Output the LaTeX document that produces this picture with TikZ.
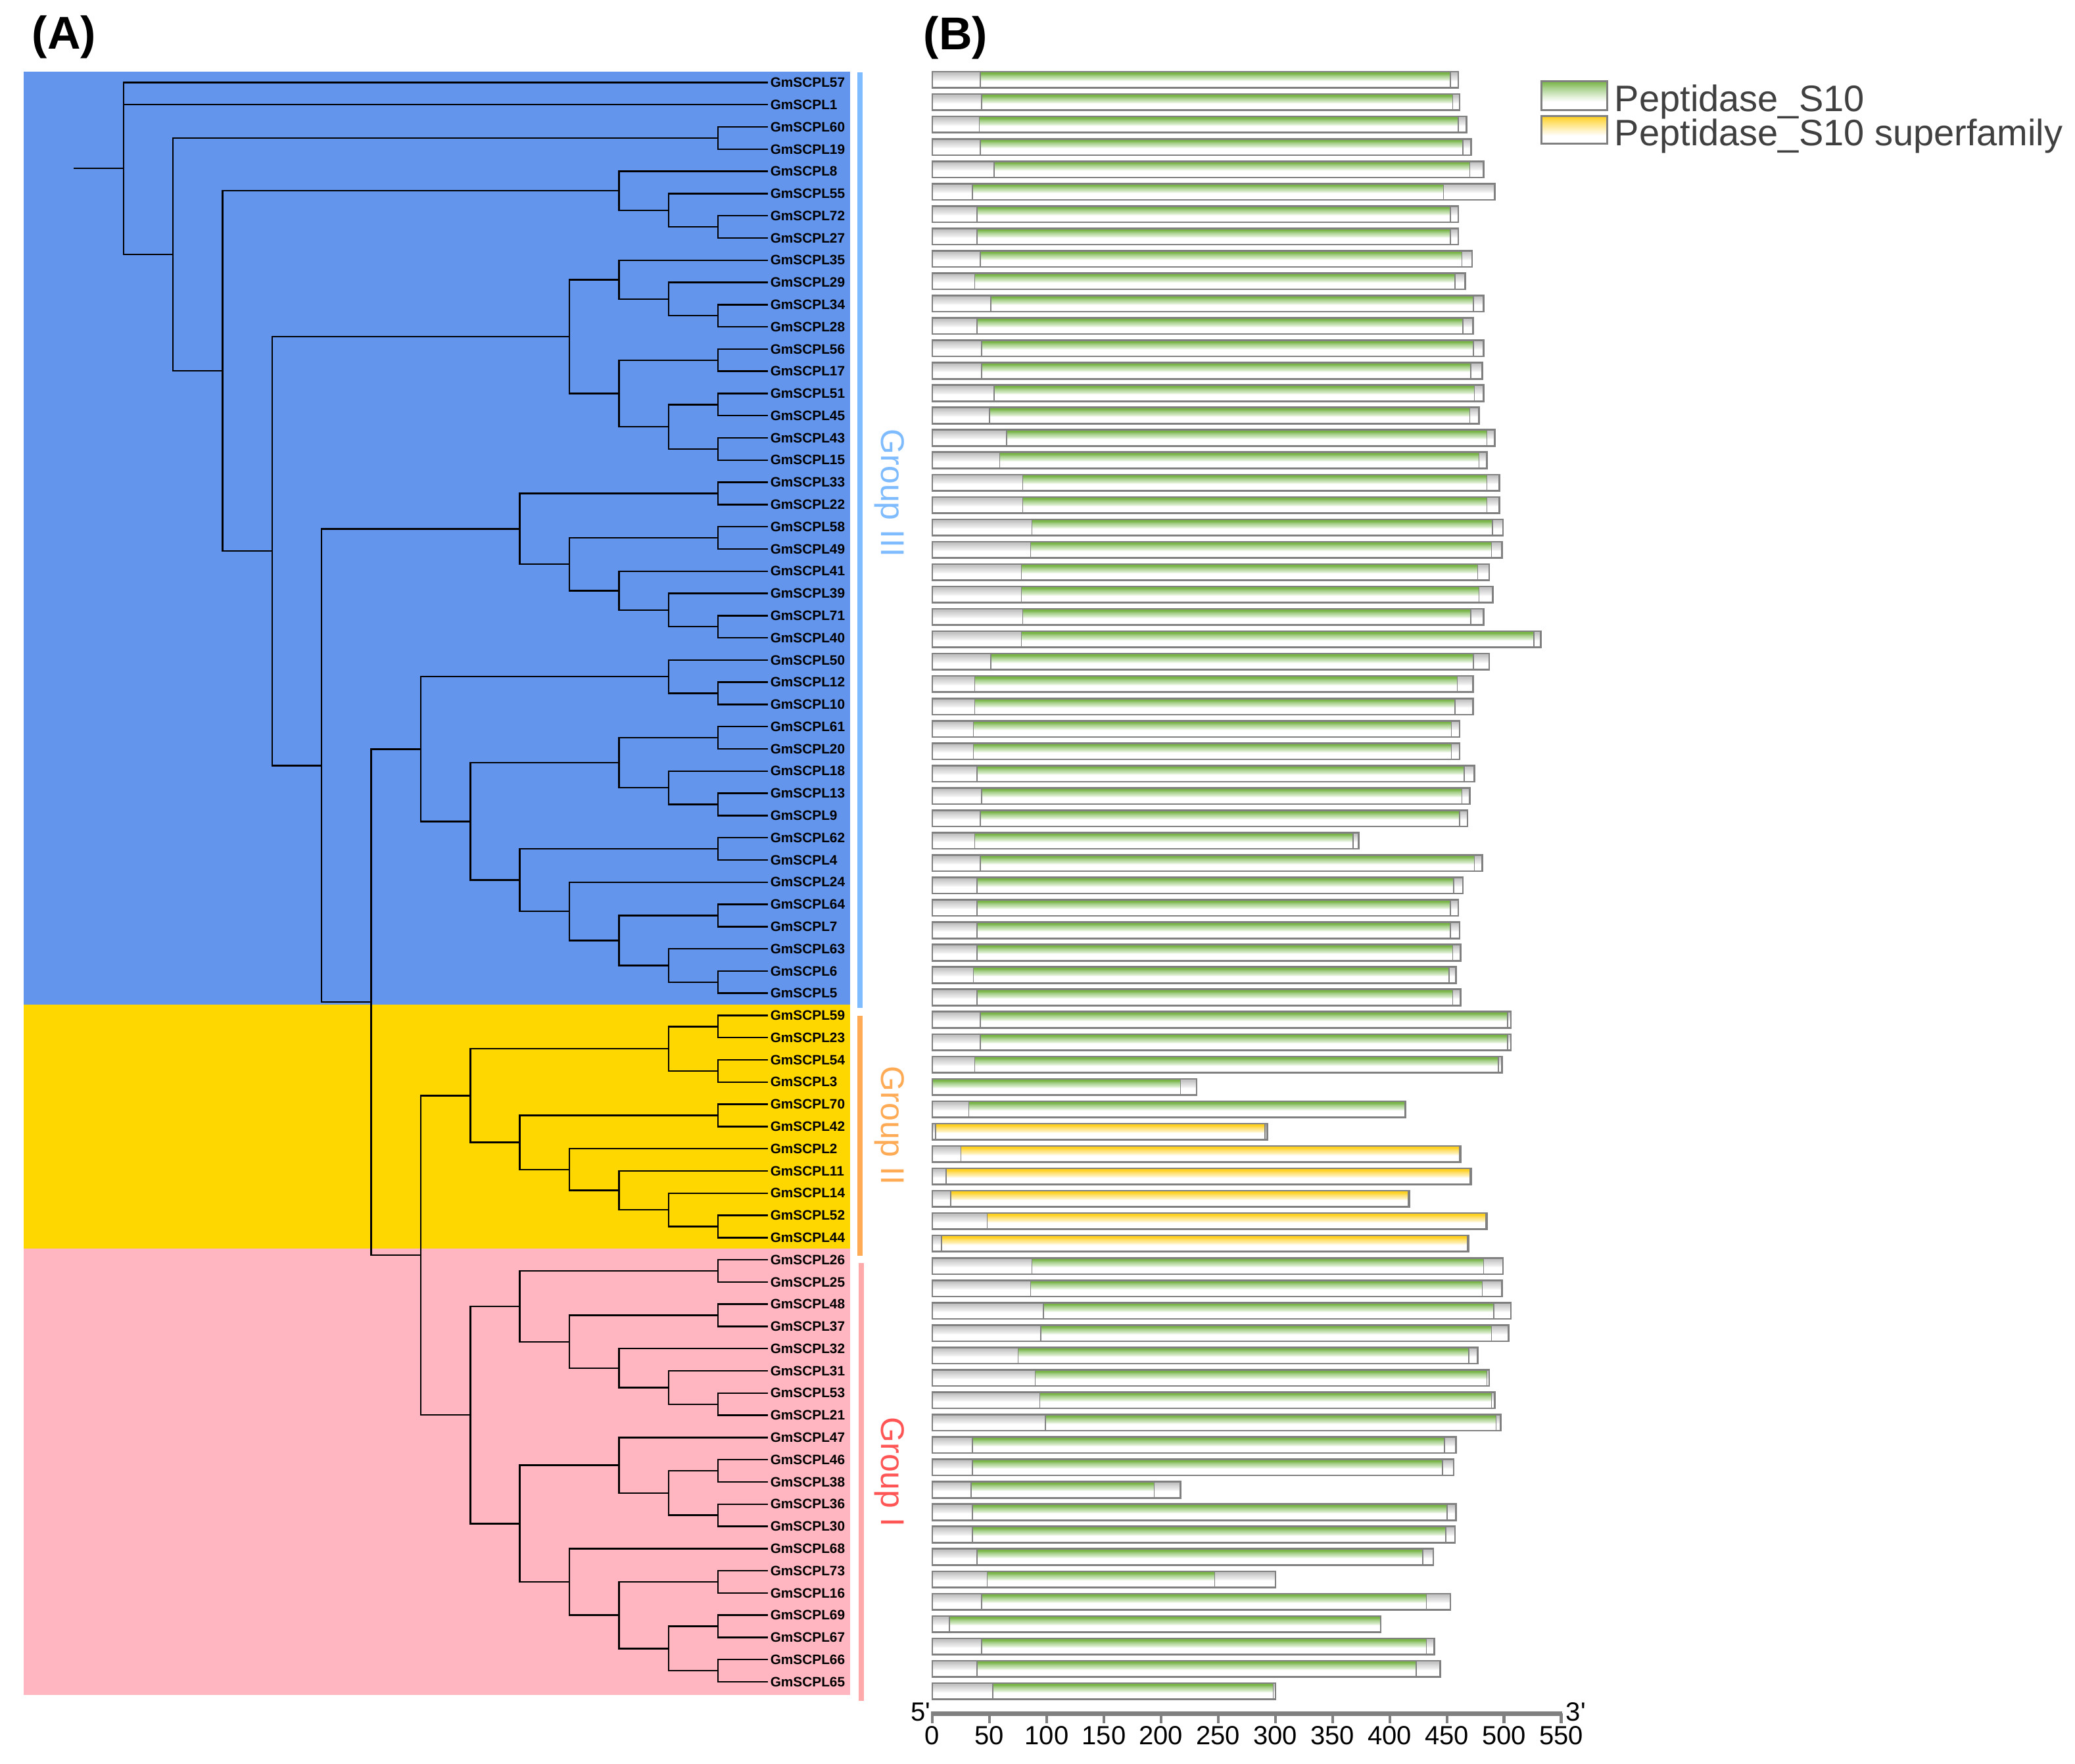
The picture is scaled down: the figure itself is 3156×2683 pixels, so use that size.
\documentclass[tikz,border=0pt]{standalone}
\usepackage{fontspec}
\setmainfont{Liberation Sans}
\usetikzlibrary{calc}
\definecolor{bgblue}{RGB}{100,149,237}
\definecolor{bgyel}{RGB}{254,214,0}
\definecolor{bgpink}{RGB}{255,182,193}
\definecolor{grpthree}{RGB}{126,187,255}
\definecolor{grptwo}{RGB}{255,170,85}
\definecolor{grponebar}{RGB}{255,170,170}
\definecolor{grponetxt}{RGB}{255,85,85}
\definecolor{barg}{RGB}{128,128,128}
\definecolor{legtxt}{RGB}{64,64,64}
\definecolor{gA}{RGB}{120,180,70}
\definecolor{gB}{RGB}{168,208,141}
\definecolor{gC}{RGB}{214,234,200}
\definecolor{yA}{RGB}{255,208,30}
\definecolor{yB}{RGB}{255,224,110}
\definecolor{yC}{RGB}{255,240,185}
\definecolor{kA}{RGB}{195,195,195}
\definecolor{kB}{RGB}{215,215,215}
\definecolor{kC}{RGB}{235,235,235}
\pgfdeclareverticalshading{grnbar}{100bp}{color(0bp)=(white); color(25bp)=(white); color(46bp)=(white); color(52bp)=(gC); color(62bp)=(gB); color(70bp)=(gA); color(75bp)=(gA); color(100bp)=(gA)}
\pgfdeclareverticalshading{yelbar}{100bp}{color(0bp)=(white); color(25bp)=(white); color(46bp)=(white); color(52bp)=(yC); color(62bp)=(yB); color(70bp)=(yA); color(75bp)=(yA); color(100bp)=(yA)}
\pgfdeclareverticalshading{grybar}{100bp}{color(0bp)=(white); color(25bp)=(white); color(46bp)=(white); color(52bp)=(kC); color(62bp)=(kB); color(70bp)=(kA); color(75bp)=(kA); color(100bp)=(kA)}
\pgfdeclareverticalshading{grnleg}{100bp}{color(0bp)=(white); color(25bp)=(white); color(40bp)=(white); color(52bp)=(gC); color(64bp)=(gB); color(75bp)=(gA); color(100bp)=(gA)}
\pgfdeclareverticalshading{yelleg}{100bp}{color(0bp)=(white); color(25bp)=(white); color(40bp)=(white); color(52bp)=(yC); color(64bp)=(yB); color(75bp)=(yA); color(100bp)=(yA)}
\tikzset{
  branch/.style={line width=0.6pt, line join=miter},
  leaf/.style={anchor=west, inner sep=0pt, font=\bfseries\fontsize{5.2pt}{6pt}\selectfont},
  panellab/.style={anchor=base west, inner sep=0pt, font=\bfseries\fontsize{17.5pt}{20pt}\selectfont},
  grouplab/.style={rotate=-90, inner sep=0pt, font=\fontsize{12.5pt}{14pt}\selectfont},
  barline/.style={draw=barg, line width=0.65pt},
  sepline/.style={draw=barg, line width=0.4pt},
  tickline/.style={draw=barg, line width=1.1pt},
  axisline/.style={draw=barg, line width=1.75pt},
  ticklab/.style={anchor=base, inner sep=0pt, font=\fontsize{10pt}{12pt}\selectfont},
  legtext/.style={anchor=base west, inner sep=0pt, text=legtxt, font=\fontsize{14pt}{16pt}\selectfont},
}
\newcommand\clade[4]{%
  \coordinate (#1m) at ($(#3)!0.5!(#4)$);
  \coordinate (#1) at (lv#2 |- #1m);
  \draw[branch] (#3) -| (#1) |- (#4);}
\newcommand\dombar[5]{%
  \pgfmathsetmacro\yc{121.4+34.04*(#1-1)}%
  \pgfmathsetmacro\xs{1418+1.7393*#2}%
  \pgfmathsetmacro\xe{1418+1.7393*#3}%
  \pgfmathsetmacro\xt{1418+1.7393*#4}%
  \shade[shading=grybar] (1418,\yc-12.3) rectangle (\xt,\yc+12.3);
  \shade[shading=#5] (\xs,\yc-12.3) rectangle (\xe,\yc+12.3);
  \draw[sepline] (\xs,\yc-12.3) -- (\xs,\yc+12.3);
  \draw[sepline] (\xe,\yc-12.3) -- (\xe,\yc+12.3);
  \draw[barline] (1418,\yc-12.3) rectangle (\xt,\yc+12.3);}
\begin{document}
\begin{tikzpicture}[x=0.25pt,y=-0.25pt]
\useasboundingbox (0,0) rectangle (3156,2683);
\fill[white] (0,0) rectangle (3156,2683);
% background bands
\fill[bgblue] (36,108.6) rectangle (1293,1527.6);
\fill[bgyel] (36,1527.6) rectangle (1293,1899.2);
\fill[bgpink] (36,1899.2) rectangle (1293,2578);
% group bars and labels
\fill[grpthree] (1304,110) rectangle (1312,1533);
\fill[grptwo] (1304,1545) rectangle (1312,1910);
\fill[grponebar] (1306,1921) rectangle (1314,2587);
\node[grouplab, text=grpthree] (g3lab) at (1353,750) {Group III};
\node[grouplab, text=grptwo] (g2lab) at (1353,1712) {Group II};
\node[grouplab, text=grponetxt] (g1lab) at (1353,2239) {Group I};
% panel labels
\node[panellab] (pa) at (48,75) {(A)};
\node[panellab] (pb) at (1404,76) {(B)};
% levels
\foreach \k in {0,...,13} {\coordinate (lv\k) at ({187.8+75.36*\k},0);}
\coordinate (stub) at (111.7,0);
% leaves
\foreach \gn [count=\i] in {57,1,60,19,8,55,72,27,35,29,34,28,56,17,51,45,43,15,33,22,58,49,41,39,71,40,50,12,10,61,20,18,13,9,62,4,24,64,7,63,6,5,59,23,54,3,70,42,2,11,14,52,44,26,25,48,37,32,31,53,21,47,46,38,36,30,68,73,16,69,67,66,65} {
  \coordinate (g\gn) at (1167.5,{125.5+33.785*(\i-1)});
  \node[leaf] (lab\gn) at (1171,{125.5+33.785*(\i-1)}) {GmSCPL\gn};
}
% tree
\clade{n6019}{12}{g60}{g19}
\clade{n7227}{12}{g72}{g27}
\clade{n55}{11}{g55}{n7227}
\clade{nA}{10}{g8}{n55}
\clade{n3428}{12}{g34}{g28}
\clade{n29}{11}{g29}{n3428}
\clade{nBa}{10}{g35}{n29}
\clade{n5617}{12}{g56}{g17}
\clade{n5145}{12}{g51}{g45}
\clade{n4315}{12}{g43}{g15}
\clade{n51c}{11}{n5145}{n4315}
\clade{nBb}{10}{n5617}{n51c}
\clade{nB}{9}{nBa}{nBb}
\clade{n3322}{12}{g33}{g22}
\clade{n5849}{12}{g58}{g49}
\clade{n7140}{12}{g71}{g40}
\clade{n39}{11}{g39}{n7140}
\clade{n41}{10}{g41}{n39}
\clade{nCb}{9}{n5849}{n41}
\clade{nC}{8}{n3322}{nCb}
\clade{n1210}{12}{g12}{g10}
\clade{nDa}{11}{g50}{n1210}
\clade{n6120}{12}{g61}{g20}
\clade{n139}{12}{g13}{g9}
\clade{n18}{11}{g18}{n139}
\clade{nDba}{10}{n6120}{n18}
\clade{n624}{12}{g62}{g4}
\clade{n647}{12}{g64}{g7}
\clade{n65}{12}{g6}{g5}
\clade{n63}{11}{g63}{n65}
\clade{n64c}{10}{n647}{n63}
\clade{n24}{9}{g24}{n64c}
\clade{nDbb}{8}{n624}{n24}
\clade{nDb}{7}{nDba}{nDbb}
\clade{nD}{6}{nDa}{nDb}
\clade{n5923}{12}{g59}{g23}
\clade{n543}{12}{g54}{g3}
\clade{nEa}{11}{n5923}{n543}
\clade{n7042}{12}{g70}{g42}
\clade{n5244}{12}{g52}{g44}
\clade{n14}{11}{g14}{n5244}
\clade{n11}{10}{g11}{n14}
\clade{n2}{9}{g2}{n11}
\clade{nEb}{8}{n7042}{n2}
\clade{nE}{7}{nEa}{nEb}
\clade{n2625}{12}{g26}{g25}
\clade{n4837}{12}{g48}{g37}
\clade{n5321}{12}{g53}{g21}
\clade{n31}{11}{g31}{n5321}
\clade{n32}{10}{g32}{n31}
\clade{n48c}{9}{n4837}{n32}
\clade{nFa}{8}{n2625}{n48c}
\clade{n4638}{12}{g46}{g38}
\clade{n3630}{12}{g36}{g30}
\clade{n46c}{11}{n4638}{n3630}
\clade{n47}{10}{g47}{n46c}
\clade{n7316}{12}{g73}{g16}
\clade{n6967}{12}{g69}{g67}
\clade{n6665}{12}{g66}{g65}
\clade{n69c}{11}{n6967}{n6665}
\clade{n73c}{10}{n7316}{n69c}
\clade{n68}{9}{g68}{n73c}
\clade{nFb}{8}{n47}{n68}
\clade{nF}{7}{nFa}{nFb}
\clade{nU}{6}{nE}{nF}
\clade{nV}{5}{nD}{nU}
\clade{nW}{4}{nC}{nV}
\clade{nZ}{3}{nB}{nW}
\clade{nY}{2}{nA}{nZ}
\clade{nX}{1}{n6019}{nY}
\clade{root}{0}{g57}{nX}
\draw[branch] (g1) -- (lv0 |- g1);
\draw[branch] (root) -- (stub |- root);
% domain bars
\foreach \r/\a/\b/\c/\s in {
1/42/453/460/grnbar, 2/43/455/461/grnbar, 3/41/460/467/grnbar, 4/42/464/471/grnbar,
5/54/470/482/grnbar, 6/35/447/492/grnbar, 7/39/453/460/grnbar, 8/39/453/460/grnbar,
9/42/463/472/grnbar, 10/37/457/466/grnbar, 11/51/473/482/grnbar, 12/39/464/473/grnbar,
13/43/473/482/grnbar, 14/43/471/481/grnbar, 15/54/474/482/grnbar, 16/50/470/478/grnbar,
17/65/485/492/grnbar, 18/59/478/485/grnbar, 19/79/485/496/grnbar, 20/79/485/496/grnbar,
21/87/490/499/grnbar, 22/86/489/498/grnbar, 23/78/477/487/grnbar, 24/78/478/490/grnbar,
25/79/471/482/grnbar, 26/78/526/532/grnbar, 27/51/473/487/grnbar, 28/37/459/473/grnbar,
29/37/457/473/grnbar, 30/36/454/461/grnbar, 31/36/454/461/grnbar, 32/39/465/474/grnbar,
33/43/463/470/grnbar, 34/42/461/468/grnbar, 35/37/368/373/grnbar, 36/42/474/481/grnbar,
37/39/456/464/grnbar, 38/39/453/460/grnbar, 39/39/453/461/grnbar, 40/39/455/462/grnbar,
41/36/452/458/grnbar, 42/39/455/462/grnbar, 43/42/503/506/grnbar, 44/42/503/506/grnbar,
45/37/495/498/grnbar, 46/0/217/231/grnbar, 47/32/413/414/grnbar, 48/3/291/293/yelbar,
49/25/461/462/yelbar, 50/12/470/471/yelbar, 51/16/416/417/yelbar, 52/48/484/485/yelbar,
53/8/468/469/yelbar, 54/87/482/499/grnbar, 55/86/481/498/grnbar, 56/97/491/506/grnbar,
57/95/489/504/grnbar, 58/75/469/477/grnbar, 59/90/485/487/grnbar, 60/94/489/492/grnbar,
61/99/493/497/grnbar, 62/35/448/458/grnbar, 63/35/446/456/grnbar, 64/34/194/217/grnbar,
65/35/450/458/grnbar, 66/35/449/457/grnbar, 67/39/429/438/grnbar, 68/48/247/300/grnbar,
69/43/432/453/grnbar, 70/15/392/392/grnbar, 71/43/432/439/grnbar, 72/39/423/444/grnbar,
73/53/298/300/grnbar} {
  \dombar{\r}{\a}{\b}{\c}{\s}
}
% axis
\draw[axisline] (1416,2606) -- (2376,2606);
\foreach \t in {0,50,...,550} {
  \draw[tickline] ({1418+1.7393*\t},2606) -- ({1418+1.7393*\t},2621);
  \node[ticklab] (tk\t) at ({1418+1.7393*\t},2653) {\t};
}
\node[ticklab, anchor=base east] (five) at (1416,2617) {5\textquotesingle};
\node[ticklab, anchor=base west] (three) at (2381,2617) {3\textquotesingle};
% legend
\shade[shading=grnleg] (2344,124) rectangle (2444,168);
\draw[barline, line width=0.75pt] (2344,124) rectangle (2444,168);
\shade[shading=yelleg] (2344,177) rectangle (2444,219);
\draw[barline, line width=0.75pt] (2344,177) rectangle (2444,219);
\node[legtext] (leg1) at (2455,170) {Peptidase\_S10};
\node[legtext] (leg2) at (2455,222) {Peptidase\_S10 superfamily};
\end{tikzpicture}
\end{document}
